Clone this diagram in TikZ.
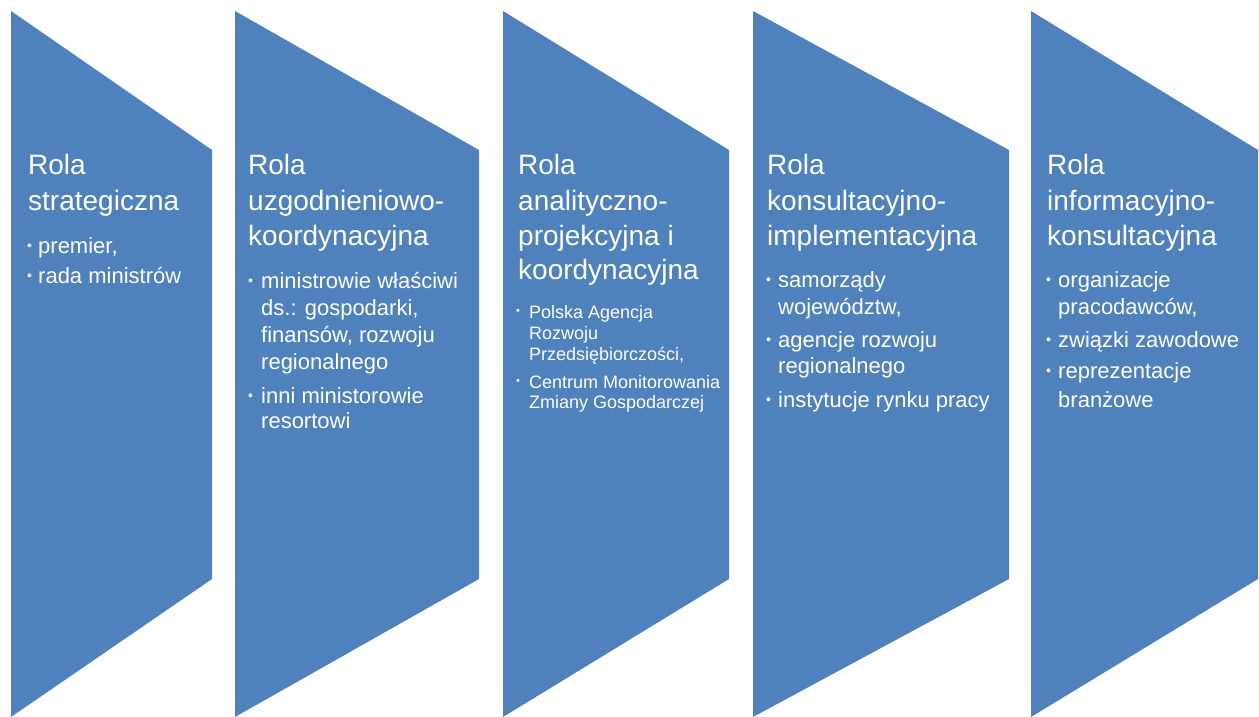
\documentclass[tikz,border=0pt]{standalone}
\usepackage{fontspec}
\setmainfont{Liberation Sans}
\definecolor{chevblue}{HTML}{4F81BD}
\begin{document}
\begin{tikzpicture}[x=1pt,y=-1pt,
  chev/.style={fill=chevblue},
  ttl/.style={anchor=base west,inner sep=0pt,text=white,font=\fontsize{28}{34}\selectfont},
  itm/.style={anchor=base west,inner sep=0pt,text=white,font=\fontsize{22}{26}\selectfont},
  sitm/.style={anchor=base west,inner sep=0pt,text=white,font=\fontsize{18}{21}\selectfont},
  bul/.style={anchor=base west,inner sep=0pt,text=white,font=\fontsize{14}{14}\selectfont},
  sbul/.style={anchor=base west,inner sep=0pt,text=white,font=\fontsize{11}{11}\selectfont}]
\useasboundingbox (0,0) rectangle (1259,717);
% shapes
\fill[chev] (11,11) -- (212,150) -- (212,579) -- (11,717) -- cycle;
\fill[chev] (235,11) -- (479,150) -- (479,579) -- (235,717) -- cycle;
\fill[chev] (503,11) -- (729,150) -- (729,579) -- (503,717) -- cycle;
\fill[chev] (753,11) -- (1009,150) -- (1009,579) -- (753,717) -- cycle;
\fill[chev] (1031,11) -- (1258,150) -- (1258,579) -- (1031,717) -- cycle;
% shape 1
\node[ttl] (a1) at (28,174) {Rola};
\node[ttl] (a2) at (28,210) {strategiczna};
\node[bul] (ab1) at (27,253) {\raisebox{3pt}{•}};
\node[itm] (a3) at (38,253) {premier,};
\node[bul] (ab2) at (27,283) {\raisebox{3pt}{•}};
\node[itm] (a4) at (38,283) {rada ministrów};
% shape 2
\node[ttl] (b1) at (248,174) {Rola};
\node[ttl] (b2) at (248,210) {uzgodnieniowo-};
\node[ttl] (b3) at (248,245) {koordynacyjna};
\node[bul] (bb1) at (248,288) {\raisebox{3pt}{•}};
\node[itm] (b4) at (261,288) {ministrowie właściwi};
\node[itm] (b5) at (261,315) {ds.: gospodarki,};
\node[itm] (b6) at (261,342) {finansów, rozwoju};
\node[itm] (b7) at (261,369) {regionalnego};
\node[bul] (bb2) at (248,403) {\raisebox{3pt}{•}};
\node[itm] (b8) at (261,403) {inni ministorowie};
\node[itm] (b9) at (261,428) {resortowi};
% shape 3
\node[ttl] (c1) at (518,174) {Rola};
\node[ttl] (c2) at (518,210) {analityczno-};
\node[ttl] (c3) at (518,245) {projekcyjna i};
\node[ttl] (c4) at (518,279) {koordynacyjna};
\node[sbul] (cb1) at (516,318) {\raisebox{4pt}{•}};
\node[sitm] (c5) at (529,318) {Polska Agencja};
\node[sitm] (c6) at (529,339) {Rozwoju};
\node[sitm] (c7) at (529,360) {Przedsiębiorczości,};
\node[sbul] (cb2) at (516,388) {\raisebox{4pt}{•}};
\node[sitm] (c8) at (529,388) {Centrum Monitorowania};
\node[sitm] (c9) at (529,408) {Zmiany Gospodarczej};
% shape 4
\node[ttl] (d1) at (767,174) {Rola};
\node[ttl] (d2) at (767,210) {konsultacyjno-};
\node[ttl] (d3) at (767,245) {implementacyjna};
\node[bul] (db1) at (766,287) {\raisebox{3pt}{•}};
\node[itm] (d4) at (778,287) {samorządy};
\node[itm] (d5) at (778,314) {województw,};
\node[bul] (db2) at (766,347) {\raisebox{3pt}{•}};
\node[itm] (d6) at (778,347) {agencje rozwoju};
\node[itm] (d7) at (778,373) {regionalnego};
\node[bul] (db3) at (766,407) {\raisebox{3pt}{•}};
\node[itm] (d8) at (778,407) {instytucje rynku pracy};
% shape 5
\node[ttl] (e1) at (1047,174) {Rola};
\node[ttl] (e2) at (1047,210) {informacyjno-};
\node[ttl] (e3) at (1047,245) {konsultacyjna};
\node[bul] (eb1) at (1046,287) {\raisebox{3pt}{•}};
\node[itm] (e4) at (1058,287) {organizacje};
\node[itm] (e5) at (1058,314) {pracodawców,};
\node[bul] (eb2) at (1046,347) {\raisebox{3pt}{•}};
\node[itm] (e6) at (1058,347) {związki zawodowe};
\node[bul] (eb3) at (1046,378) {\raisebox{3pt}{•}};
\node[itm] (e7) at (1058,378) {reprezentacje};
\node[itm] (e8) at (1058,407) {branżowe};
\end{tikzpicture}
\end{document}
